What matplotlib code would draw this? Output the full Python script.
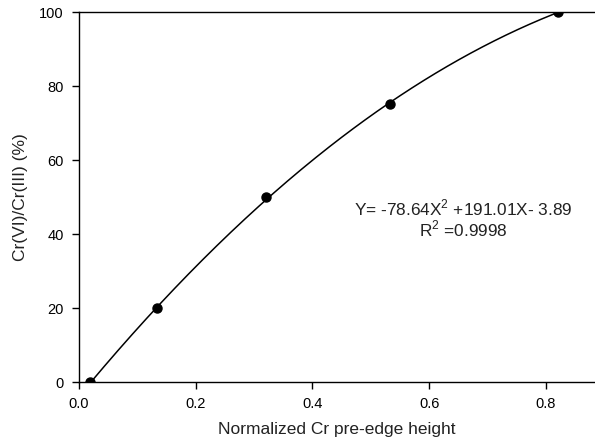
import numpy as np
import matplotlib.pyplot as plt

plt.rcParams['font.family'] = ['Liberation Sans', 'DejaVu Sans']

# Messpunkte
pre_edge = [0.019, 0.134, 0.320, 0.532, 0.820]
cr_ratio = [0, 20, 50, 75, 100]

# Fit-Koeffizienten aus der Gleichung im Bild
a2, a1, a0 = -78.64, 191.01, -3.89

x_fit = np.linspace(pre_edge[0], pre_edge[-1], 200)
y_fit = a2 * x_fit**2 + a1 * x_fit + a0

fig = plt.figure(figsize=(5.95, 4.44), dpi=100)
ax = fig.add_axes([79 / 595, 1 - 382 / 444, 1 - 79 / 595, (382 - 12) / 444])

ax.plot(x_fit, y_fit, 'k-', lw=1.1)
ax.plot(pre_edge, cr_ratio, 'ko', ms=6.5)

ax.set_xlim(0, 0.884)
ax.set_ylim(0, 100)
ax.set_xticks([0.0, 0.2, 0.4, 0.6, 0.8])
ax.set_xticklabels(['0.0', '0.2', '0.4', '0.6', '0.8'])
ax.set_yticks([0, 20, 40, 60, 80, 100])
ax.spines['right'].set_visible(False)
for s in ['left', 'bottom', 'top']:
    ax.spines[s].set_linewidth(1.0)
ax.tick_params(direction='out', length=5, width=1, labelsize=10.5, colors='black', pad=6)
ax.tick_params(top=False)

ax.set_xlabel('Normalized Cr pre-edge height', fontsize=12.5, labelpad=8, color='#222222')
ax.set_ylabel('Cr(VI)/Cr(III) (%)', fontsize=12.5, labelpad=8, color='#222222')

# Gleichung, Hochstellung klein gehalten
ax.text(0.658, 47.0, r'Y= -78.64X$^{\mathregular{2}}$ +191.01X- 3.89', ha='center', va='center',
        fontsize=12.4, color='#222222')
ax.text(0.658, 41.4, r'R$^{\mathregular{2}}$ =0.9998', ha='center', va='center',
        fontsize=12.4, color='#222222')

fig.savefig('out.png', dpi=100)
